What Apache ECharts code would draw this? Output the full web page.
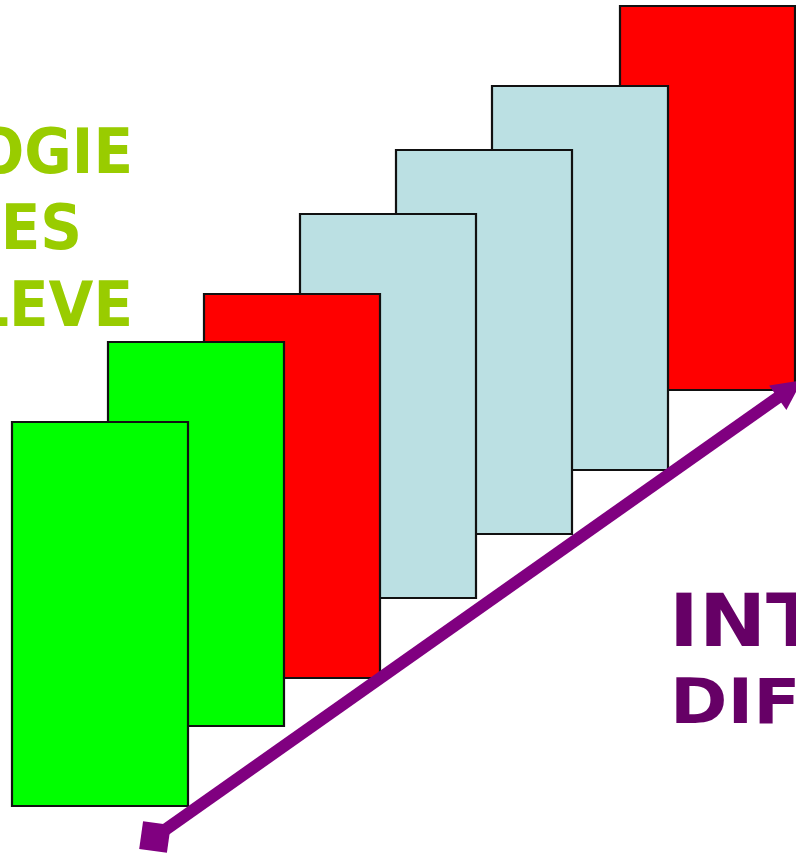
<!DOCTYPE html>
<html>
<head>
<meta charset="utf-8">
<script src="https://cdn.jsdelivr.net/npm/echarts@6/dist/echarts.min.js"></script>
<style>
  html, body { margin: 0; padding: 0; background: #ffffff; }
  #chart { width: 796px; height: 855px; }
</style>
</head>
<body>
<div id="chart"></div>
<script>
// ---- data (diagram units = page pixels on hidden axes) ----
const cardNames  = ['c1', 'c2', 'c3', 'c4', 'c5', 'c6', 'c7'];
const cardKinds  = ['green', 'green', 'red', 'blue', 'blue', 'blue', 'red'];
const cardLeft   = [12, 108, 204, 300, 396, 492, 620];
const cardTop    = [422, 342, 294, 214, 150, 86, 6];
const cardRight  = [188, 284, 380, 476, 572, 668, 795];
const cardBottom = [806, 726, 678, 598, 534, 470, 390];

const arrowStart = [155, 837];
const arrowEnd   = [790, 389];

const leftLines  = ['OGIE', 'ES', 'LEVE'];
const rightLines = ['INT', 'DIFF'];

// ---- styles ----
const palette = { green: '#00FF00', red: '#FF0000', blue: '#BBE0E3' };
const W = 796, H = 855;

const chart = echarts.init(document.getElementById('chart'), null, { renderer: 'canvas' });

// back-to-front drawing order (rightmost card at the back)
const cardData = cardNames.map((n, i) => ({
  name: n,
  value: [cardLeft[i], cardTop[i], cardRight[i], cardBottom[i]],
  itemStyle: { color: palette[cardKinds[i]] }
})).reverse();

const FONT = '"DejaVu Sans", Verdana, sans-serif';

chart.setOption({
  animation: false,
  backgroundColor: '#ffffff',
  grid: { left: 0, right: 0, top: 0, bottom: 0 },
  xAxis: { type: 'value', min: 0, max: W, show: false },
  yAxis: { type: 'value', min: 0, max: H, inverse: true, show: false },
  series: [
    {
      type: 'custom',
      clip: false,
      data: cardData,
      renderItem: function (params, api) {
        const p0 = api.coord([api.value(0), api.value(1)]);
        const p1 = api.coord([api.value(2), api.value(3)]);
        return {
          type: 'rect',
          shape: { x: p0[0], y: p0[1], width: p1[0] - p0[0], height: p1[1] - p0[1] },
          style: { fill: api.visual('color'), stroke: '#111111', lineWidth: 2.2 }
        };
      },
      z: 1
    },
    {
      type: 'lines',
      coordinateSystem: 'cartesian2d',
      symbol: ['none', 'triangle'],
      symbolSize: [38, 30],
      lineStyle: { color: '#800080', width: 12, opacity: 1, curveness: 0 },
      itemStyle: { color: '#800080' },
      data: [{ coords: [arrowStart, arrowEnd] }],
      z: 2
    },
    {
      type: 'scatter',
      symbol: 'rect',
      symbolSize: 28,
      symbolRotate: -8,
      itemStyle: { color: '#800080', opacity: 1 },
      data: [arrowStart],
      z: 3
    }
  ],
  graphic: [
    { type: 'text', x: 133, y: 157, scaleX: 0.92, style: { text: leftLines[0], font: 'bold 63px ' + FONT, fill: '#99CC00', align: 'right', verticalAlign: 'middle' } },
    { type: 'text', x: 82,  y: 233, scaleX: 0.92, style: { text: leftLines[1], font: 'bold 63px ' + FONT, fill: '#99CC00', align: 'right', verticalAlign: 'middle' } },
    { type: 'text', x: 133, y: 310, scaleX: 0.92, style: { text: leftLines[2], font: 'bold 63px ' + FONT, fill: '#99CC00', align: 'right', verticalAlign: 'middle' } },
    { type: 'text', x: 669, y: 627, scaleX: 1.1, style: { text: rightLines[0], font: 'bold 73px ' + FONT, fill: '#660066', align: 'left', verticalAlign: 'middle' } },
    { type: 'text', x: 670, y: 707, scaleX: 1.1, style: { text: rightLines[1], font: 'bold 63px ' + FONT, fill: '#660066', align: 'left', verticalAlign: 'middle' } }
  ]
});
</script>
</body>
</html>
